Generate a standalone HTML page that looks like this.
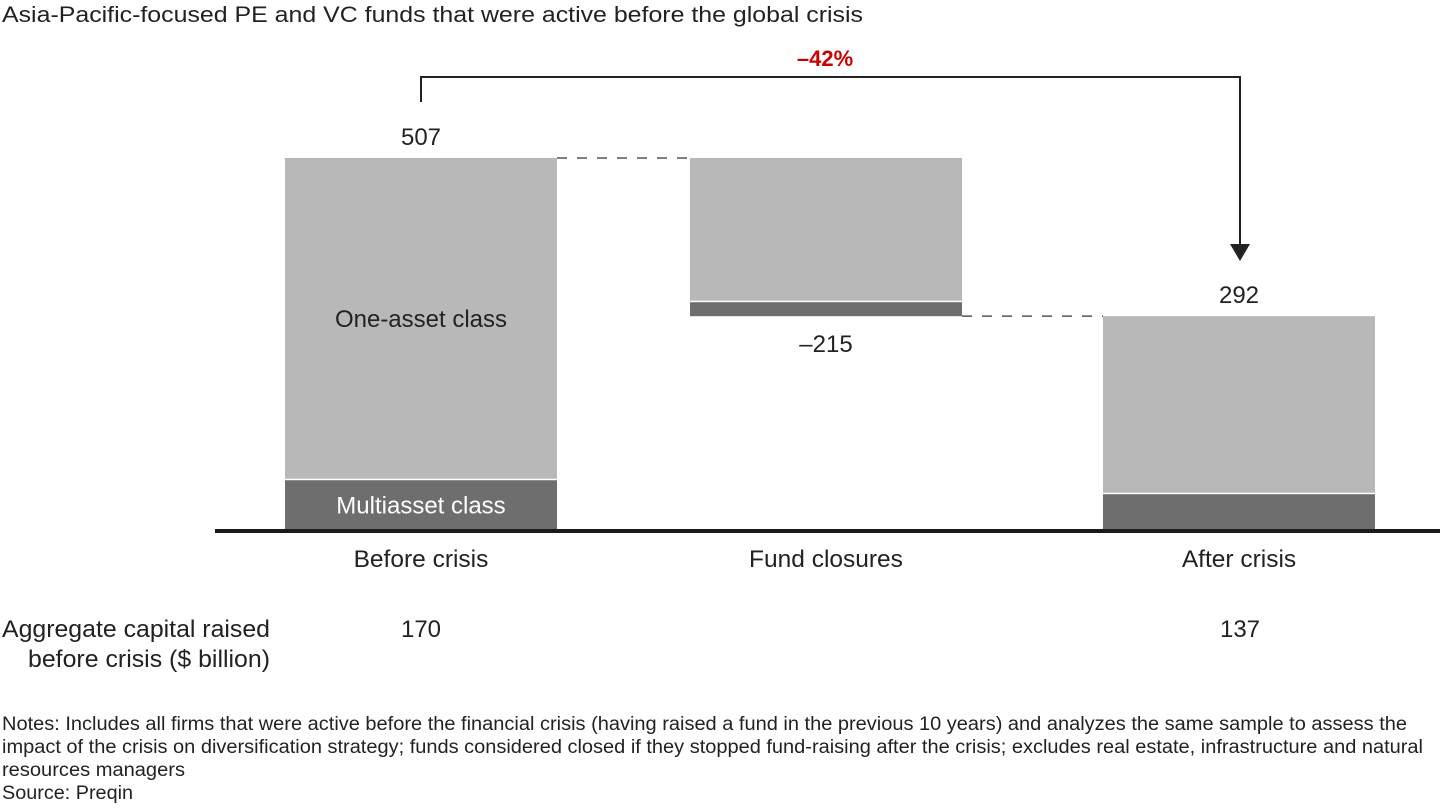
<!DOCTYPE html>
<html><head><meta charset="utf-8"><style>
body{margin:0;background:#fff;}
svg{display:block;font-family:"Liberation Sans",Arial,sans-serif;}
</style></head><body>
<svg id="chart" width="1440" height="810" viewBox="0 0 1440 810">
<text x="2" y="22" font-size="22" textLength="861" lengthAdjust="spacingAndGlyphs" fill="#222">Asia-Pacific-focused PE and VC funds that were active before the global crisis</text>
<g id="bars"></g>
<line x1="215" y1="531" x2="1440" y2="531" stroke="#1a1a1a" stroke-width="4"/>
<path d="M421,102 V77 H1240 V246" fill="none" stroke="#222" stroke-width="2"/>
<polygon points="1230,244 1250,244 1240,261" fill="#222"/>
<text x="825" y="66" font-size="22" font-weight="bold" fill="#cc0000" text-anchor="middle">–42%</text>
<text x="2" y="637" font-size="24" textLength="268" lengthAdjust="spacingAndGlyphs" fill="#222">Aggregate capital raised</text>
<text x="28" y="667" font-size="24" textLength="242" lengthAdjust="spacingAndGlyphs" fill="#222">before crisis ($ billion)</text>
<text x="421" y="637" font-size="24" fill="#222" text-anchor="middle">170</text>
<text x="1240" y="637" font-size="24" fill="#222" text-anchor="middle">137</text>
<text x="2" y="730" font-size="19" textLength="1405" lengthAdjust="spacingAndGlyphs" fill="#222">Notes: Includes all firms that were active before the financial crisis (having raised a fund in the previous 10 years) and analyzes the same sample to assess the</text>
<text x="2" y="753" font-size="19" textLength="1421" lengthAdjust="spacingAndGlyphs" fill="#222">impact of the crisis on diversification strategy; funds considered closed if they stopped fund-raising after the crisis; excludes real estate, infrastructure and natural</text>
<text x="2" y="776" font-size="19" textLength="183" lengthAdjust="spacingAndGlyphs" fill="#222">resources managers</text>
<text x="2" y="799" font-size="19" textLength="131" lengthAdjust="spacingAndGlyphs" fill="#222">Source: Preqin</text>
</svg>
<script>
const categories = ["Before crisis", "Fund closures", "After crisis"];
const oneAsset = [438, 196, 242];
const multiAsset = [69, 19, 50];
const totalLabels = ["507", "–215", "292"];
const NS = "http://www.w3.org/2000/svg";
const g = document.getElementById("bars");
const baseY = 531, scale = 373 / 507;
const barX = [285, 690, 1103], barW = 272;
function y(v) { return baseY - v * scale; }
function mk(tag, attrs) { const e = document.createElementNS(NS, tag); for (const k in attrs) e.setAttribute(k, attrs[k]); g.appendChild(e); return e; }
const tot = categories.map((c, i) => oneAsset[i] + multiAsset[i]);
const bottoms = [0, tot[0] - tot[1], 0];
categories.forEach((c, i) => {
  const b = bottoms[i];
  const m = mk("rect", {x: barX[i], y: y(b + multiAsset[i]), width: barW, height: multiAsset[i] * scale, fill: "#6e6e6f"});
  
  
  const o = mk("rect", {x: barX[i], y: y(b + tot[i]), width: barW, height: oneAsset[i] * scale - 1.5, fill: "#b8b8b8"});
  
  
  const cl = mk("text", {x: barX[i] + barW / 2, y: 567, "font-size": 24.5, fill: "#222", "text-anchor": "middle"});
  cl.textContent = c;
  
  
  const ly = i === 1 ? y(b) + 36 : y(b + tot[i]) - 13;
  const tl = mk("text", {x: barX[i] + barW / 2, y: ly, "font-size": 24, fill: "#222", "text-anchor": "middle"});
  tl.textContent = totalLabels[i];
  
  
});
const c1 = mk("line", {x1: barX[0] + barW, x2: barX[1], y1: y(tot[0]), y2: y(tot[0]), stroke: "#555", "stroke-width": 1.5, "stroke-dasharray": "10,10"});


const c2 = mk("line", {x1: barX[1] + barW, x2: barX[2], y1: y(bottoms[1]), y2: y(bottoms[1]), stroke: "#555", "stroke-width": 1.5, "stroke-dasharray": "10,10"});


const l1 = mk("text", {x: 421, y: y(bottoms[0] + multiAsset[0] + oneAsset[0] / 2) + 8, "font-size": 24, fill: "#222", "text-anchor": "middle"});
l1.textContent = "One-asset class";


const l2 = mk("text", {x: 421, y: y(multiAsset[0] / 2) + 8, "font-size": 24, fill: "#fff", "text-anchor": "middle"});
l2.textContent = "Multiasset class";


</script>
</body></html>
